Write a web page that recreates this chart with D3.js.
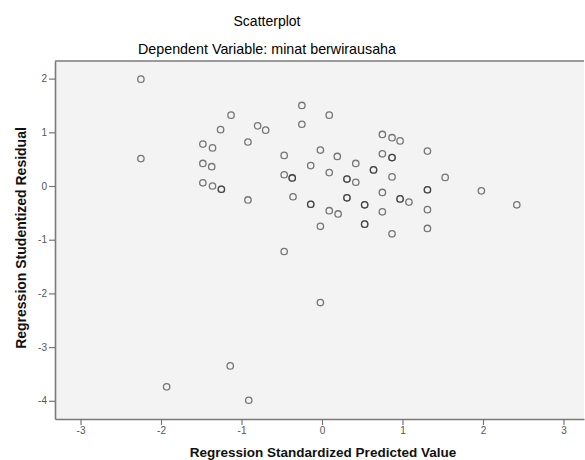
<!DOCTYPE html>
<html>
<head>
<meta charset="utf-8">
<script src="https://cdn.jsdelivr.net/npm/d3@7"></script>
<style>
  body { margin: 0; background: #fff; }
  text { font-family: "Liberation Sans", Arial, sans-serif; }
</style>
</head>
<body>
<div id="chart"></div>
<script>
// Regression Standardized Predicted Value (x) and Studentized Residual (y)
// darker circles in the picture are overlapping cases, so they appear twice
const predicted = [
  -2.25, -2.25, -1.13, -1.26, -0.80, -0.70, -1.48, -1.36, -0.92, -0.47,
  -1.48, -1.37, -0.47, -0.37, -0.37, -1.48, -1.36, -1.25, -1.25, -0.92,
  -0.36, -0.47, -0.25, -0.25, 0.09, 0.75, 0.87, 0.97, 1.31, -0.02,
  0.19, 0.75, 0.87, 0.87, 0.42, -0.14, 0.64, 0.64, 0.09, 0.31,
  0.31, 0.42, 0.87, 1.53, 1.98, 2.42, 1.31, 1.31, -0.14, -0.14,
  0.31, 0.31, 0.53, 0.53, 0.75, 0.97, 0.97, 1.08, 0.09, 0.20,
  0.75, 1.31, -0.02, 0.53, 0.53, 0.87, 1.31, -0.02, -1.93, -1.14,
  -0.91
];
const residual = [
  1.99, 0.51, 1.32, 1.05, 1.12, 1.04, 0.78, 0.71, 0.82, 0.57,
  0.42, 0.36, 0.21, 0.15, 0.15, 0.06, 0.00, -0.06, -0.06, -0.26,
  -0.20, -1.22, 1.50, 1.15, 1.32, 0.96, 0.90, 0.84, 0.65, 0.67,
  0.55, 0.60, 0.53, 0.53, 0.42, 0.38, 0.30, 0.30, 0.25, 0.13,
  0.13, 0.07, 0.17, 0.16, -0.09, -0.35, -0.07, -0.07, -0.34, -0.34,
  -0.22, -0.22, -0.35, -0.35, -0.12, -0.24, -0.24, -0.30, -0.46, -0.52,
  -0.48, -0.44, -0.75, -0.71, -0.71, -0.89, -0.79, -2.17, -3.74, -3.35,
  -3.99
];
const xTicks = [-3, -2, -1, 0, 1, 2, 3];
const yTicks = [2, 1, 0, -1, -2, -3, -4];

const title = "Scatterplot";
const subtitle = "Dependent Variable: minat berwirausaha";
const xTitle = "Regression Standardized Predicted Value";
const yTitle = "Regression Studentized Residual";

const W = 585, H = 460;
const plot = {left: 55, right: 584, top: 61, bottom: 419};

const svg = d3.select("#chart").append("svg")
  .attr("width", W)
  .attr("height", H);

svg.append("rect").attr("width", W).attr("height", H).attr("fill", "#fff");

const x = d3.scaleLinear().domain([-3.317, 3.255]).range([plot.left, plot.right]);
const y = d3.scaleLinear().domain([2.328, -4.339]).range([plot.top, plot.bottom]);

// plot background
svg.append("rect")
  .attr("x", plot.left)
  .attr("y", plot.top)
  .attr("width", plot.right - plot.left)
  .attr("height", plot.bottom - plot.top)
  .attr("fill", "#f3f3f3");

// top frame line
svg.append("line")
  .attr("x1", plot.left).attr("x2", plot.right)
  .attr("y1", plot.top).attr("y2", plot.top)
  .attr("stroke", "#9a9a9a").attr("stroke-width", 2);

// axes (plain hyphen for negatives, like the original)
const fmt = d => String(d);
const xAxis = svg.append("g")
  .attr("transform", "translate(0," + plot.bottom + ")")
  .call(d3.axisBottom(x).tickValues(xTicks).tickFormat(fmt).tickSize(6).tickPadding(2).tickSizeOuter(0));
const yAxis = svg.append("g")
  .attr("transform", "translate(" + plot.left + ",0)")
  .call(d3.axisLeft(y).tickValues(yTicks).tickFormat(fmt).tickSize(6).tickPadding(2).tickSizeOuter(0));

[xAxis, yAxis].forEach(g => {
  g.select(".domain").attr("stroke", "#7a7a7a").attr("stroke-width", 1.6);
  g.selectAll(".tick line").attr("stroke", "#777").attr("stroke-width", 1.2);
  g.selectAll(".tick text")
    .attr("fill", "#555")
    .style("font-size", "10px")
    .style("font-family", "'Liberation Sans', Arial, sans-serif");
});

// points
svg.append("g")
  .selectAll("circle")
  .data(predicted.map((p, i) => [p, residual[i]]))
  .enter()
  .append("circle")
    .attr("cx", d => x(d[0]))
    .attr("cy", d => y(d[1]))
    .attr("r", 3.2)
    .attr("fill", "none")
    .attr("stroke", "#222")
    .attr("stroke-opacity", 0.6)
    .attr("stroke-width", 1.3);

// titles
svg.append("text")
  .attr("x", 267).attr("y", 26)
  .attr("text-anchor", "middle")
  .style("font-size", "14px")
  .attr("fill", "#000")
  .text(title);

svg.append("text")
  .attr("x", 267).attr("y", 54)
  .attr("text-anchor", "middle")
  .style("font-size", "14.3px")
  .attr("fill", "#000")
  .text(subtitle);

svg.append("text")
  .attr("x", 323).attr("y", 457)
  .attr("text-anchor", "middle")
  .style("font-size", "13.5px")
  .style("font-weight", "bold")
  .attr("fill", "#111")
  .text(xTitle);

svg.append("text")
  .attr("transform", "translate(26,238) rotate(-90)")
  .attr("text-anchor", "middle")
  .style("font-size", "14px")
  .style("font-weight", "bold")
  .attr("fill", "#111")
  .text(yTitle);
</script>
</body>
</html>
